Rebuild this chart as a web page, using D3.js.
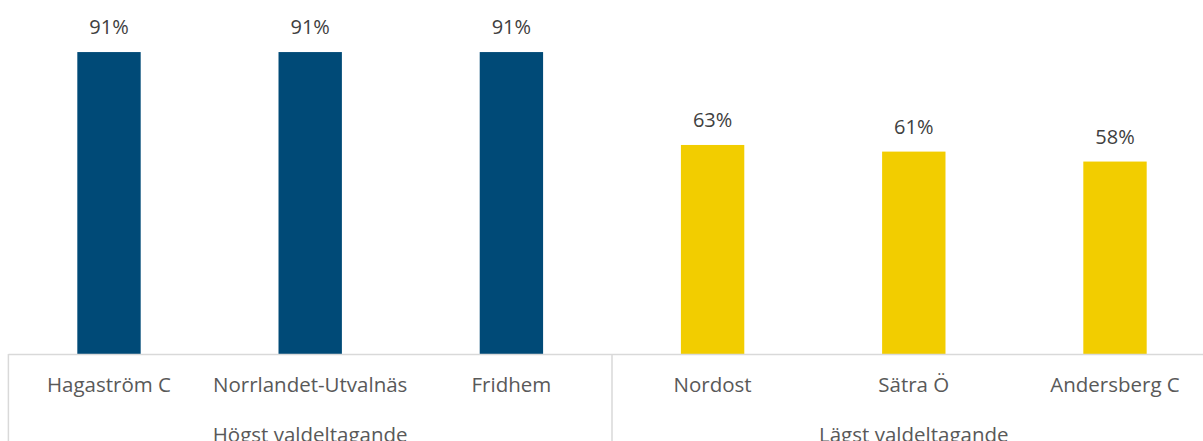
<!DOCTYPE html>
<html><head><meta charset="utf-8">
<script src="https://cdn.jsdelivr.net/npm/d3@7"></script>
<style>body{margin:0;background:#fff;overflow:hidden}svg{display:block}</style>
</head><body><svg id="c" width="1203" height="441"></svg>
<script>
const categories = ["Hagaström C","Norrlandet-Utvalnäs","Fridhem","Nordost","Sätra Ö","Andersberg C"];
const values = [91,91,91,63,61,58];
const groups = ["Högst valdeltagande","Lägst valdeltagande"];
const groupOf = [0,0,0,1,1,1];
const colors = ["#004A77","#F2CD00"];

const svg = d3.select("#c");
const x0 = 8.4, step = 201.2, baseY = 354;
const x = d3.scaleBand().domain(categories).range([x0, x0 + step*categories.length]).paddingInner(0.685).paddingOuter(0.3425);
const y = d3.scaleLinear().domain([0,100]).range([baseY, baseY - 331.8]);
const font = "'Open Sans', sans-serif";

svg.selectAll("rect.bar").data(categories).join("rect")
  .attr("class","bar")
  .attr("x", d => x(d)).attr("width", x.bandwidth())
  .attr("y", (d,i) => y(values[i])).attr("height", (d,i) => y(0) - y(values[i]))
  .attr("fill", (d,i) => colors[groupOf[i]]);

svg.selectAll("text.val").data(categories).join("text")
  .attr("class","val")
  .attr("x", d => x(d) + x.bandwidth()/2)
  .attr("y", (d,i) => y(values[i]) - 18)
  .attr("text-anchor","middle")
  .attr("font-family", font).attr("font-size", 20).attr("fill","#404040")
  .text((d,i) => values[i] + "%");

// axis lines
const g = svg.append("g").attr("stroke","#d9d9d9").attr("stroke-width",1.5);
const xEnd = x0 + step*categories.length;
g.append("line").attr("x1", x0).attr("x2", xEnd).attr("y1", baseY+0.5).attr("y2", baseY+0.5);
[0,3,6].forEach(k => {
  const xx = x0 + step*k;
  g.append("line").attr("x1", xx).attr("x2", xx).attr("y1", baseY).attr("y2", 441);
});

svg.selectAll("text.cat").data(categories).join("text")
  .attr("class","cat")
  .attr("x", d => x(d) + x.bandwidth()/2)
  .attr("y", 392)
  .attr("text-anchor","middle")
  .attr("font-family", font).attr("font-size", 20.5).attr("fill","#595959")
  .text(d => d);

svg.selectAll("text.grp").data(groups).join("text")
  .attr("class","grp")
  .attr("x", (d,k) => x0 + step*(3*k + 1.5))
  .attr("y", 442)
  .attr("text-anchor","middle")
  .attr("font-family", font).attr("font-size", 20.5).attr("fill","#595959")
  .text(d => d);
</script></body></html>
